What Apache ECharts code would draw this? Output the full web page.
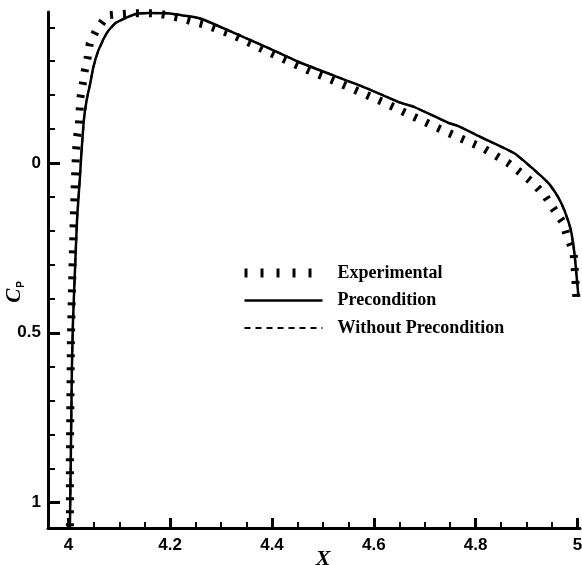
<!DOCTYPE html>
<html>
<head>
<meta charset="utf-8">
<script src="https://cdn.jsdelivr.net/npm/echarts@6/dist/echarts.min.js"></script>
<style>
  html, body { margin: 0; padding: 0; background: #fff; }
  #chart { width: 582px; height: 565px; }
</style>
</head>
<body>
<div id="chart"></div>
<script>
// tick values
const xMajor = [4, 4.2, 4.4, 4.6, 4.8, 5]
const xMinor = [4.05, 4.1, 4.15, 4.25, 4.3, 4.35, 4.45, 4.5, 4.55, 4.65, 4.7, 4.75, 4.85, 4.9, 4.95]
const yMajor = [0, 0.5, 1]
const yMinor = [-0.4, -0.3, -0.2, -0.1, 0.1, 0.2, 0.3, 0.4, 0.6, 0.7, 0.8, 0.9]

// Precondition (solid)
const precondX = [4.003, 4.005, 4.007, 4.009, 4.013, 4.017, 4.0196, 4.023, 4.026, 4.031, 4.037, 4.043, 4.049, 4.059, 4.075, 4.092, 4.115, 4.134, 4.16, 4.194, 4.225, 4.259, 4.323, 4.39, 4.454, 4.519, 4.585, 4.65, 4.68, 4.747, 4.766, 4.811, 4.876, 4.909, 4.943, 4.962, 4.974, 4.987, 4.994, 4.999, 5.002]
const precondCp = [1.075, 0.844, 0.6, 0.47, 0.315, 0.168, 0.109, 0.035, -0.038, -0.135, -0.194, -0.235, -0.282, -0.332, -0.382, -0.412, -0.429, -0.44, -0.442, -0.441, -0.435, -0.426, -0.385, -0.341, -0.297, -0.259, -0.221, -0.179, -0.165, -0.118, -0.109, -0.076, -0.029, 0.012, 0.059, 0.1, 0.138, 0.197, 0.265, 0.344, 0.394]

// Without Precondition (dashed, lies under the solid curve)
const noPrecondX = [4.003, 4.005, 4.007, 4.009, 4.013, 4.017, 4.0196, 4.023, 4.026, 4.031, 4.037, 4.043, 4.049, 4.059, 4.075, 4.092, 4.115, 4.134, 4.16, 4.194, 4.225, 4.259, 4.323, 4.39, 4.454, 4.519, 4.585, 4.65, 4.68, 4.747, 4.766, 4.811, 4.876, 4.909, 4.943, 4.962, 4.974, 4.987, 4.994, 4.999, 5.002]
const noPrecondCp = [1.075, 0.844, 0.6, 0.47, 0.315, 0.168, 0.109, 0.035, -0.038, -0.135, -0.194, -0.235, -0.282, -0.332, -0.382, -0.412, -0.429, -0.44, -0.442, -0.441, -0.435, -0.426, -0.385, -0.341, -0.297, -0.259, -0.221, -0.179, -0.165, -0.118, -0.109, -0.076, -0.029, 0.012, 0.059, 0.1, 0.138, 0.197, 0.265, 0.344, 0.394]

// Experimental
const expX = [4.003, 4.003, 4.004, 4.005, 4.007, 4.009, 4.011, 4.013, 4.014, 4.015, 4.017, 4.0206, 4.022, 4.0235, 4.028, 4.032, 4.038, 4.042, 4.054, 4.076, 4.097, 4.125, 4.174, 4.196, 4.223, 4.248, 4.272, 4.321, 4.37, 4.419, 4.47, 4.519, 4.568, 4.619, 4.668, 4.717, 4.766, 4.815, 4.864, 4.889, 4.915, 4.938, 4.956, 4.972, 4.98, 4.992, 4.994, 4.996, 4.998]
const expCp = [1.07, 0.874, 0.697, 0.521, 0.374, 0.256, 0.138, 0.047, 0.006, -0.033, -0.077, -0.112, -0.151, -0.192, -0.231, -0.271, -0.311, -0.352, -0.389, -0.435, -0.438, -0.441, -0.441, -0.435, -0.426, -0.415, -0.406, -0.379, -0.344, -0.309, -0.274, -0.244, -0.212, -0.179, -0.144, -0.109, -0.076, -0.044, 0, 0.029, 0.062, 0.1, 0.141, 0.176, 0.218, 0.259, 0.297, 0.344, 0.403]

const pairs = (xs, ys) => xs.map((x, i) => [x, ys[i]])

const labelFont = { color: '#000', fontFamily: 'Liberation Sans', fontWeight: 'bold', fontSize: 17 }
const X_MIN = 3.96
const X_MAX = 5.005
const Y_MIN = -0.445
const Y_MAX = 1.075
const noSymbol = { color: 'rgba(0,0,0,0)', borderWidth: 0 }

const chart = echarts.init(document.getElementById('chart'))
chart.setOption({
  backgroundColor: '#fff',
  animation: false,
  grid: { left: 48, right: 2, top: 12, bottom: 37, containLabel: false, outerBoundsMode: 'none' },
  legend: {
    orient: 'vertical',
    left: 235,
    top: 259,
    itemWidth: 78,
    itemHeight: 14,
    itemGap: 9.5,
    textStyle: { color: '#000', fontFamily: 'Liberation Serif', fontWeight: 'bold', fontSize: 18, padding: [0, 0, 0, 10] },
    data: [
      { name: 'Experimental', itemStyle: noSymbol, lineStyle: { color: '#000', width: 9, type: [3, 13] } },
      { name: 'Precondition', itemStyle: noSymbol, lineStyle: { color: '#000', width: 2.5, type: 'solid' } },
      { name: 'Without Precondition', itemStyle: noSymbol, lineStyle: { color: '#000', width: 2, type: [6, 5] } }
    ]
  },
  xAxis: [{
    type: 'value',
    min: X_MIN,
    max: X_MAX,
    position: 'bottom',
    name: 'X',
    nameLocation: 'middle',
    nameGap: 20,
    nameMoveOverlap: false,
    nameTextStyle: { color: '#000', fontFamily: 'Liberation Serif', fontStyle: 'italic', fontWeight: 'bold', fontSize: 22, verticalAlign: 'top', padding: [0, 0, 0, 18] },
    axisLine: { onZero: false, lineStyle: { color: '#000', width: 3 } },
    axisTick: { inside: true, length: 10, customValues: xMajor, lineStyle: { color: '#000', width: 3 } },
    axisLabel: Object.assign({ customValues: xMajor, margin: 9 }, labelFont),
    splitLine: { show: false }
  }, {
    type: 'value',
    min: X_MIN,
    max: X_MAX,
    position: 'bottom',
    axisLine: { show: false, onZero: false },
    axisTick: { inside: true, length: 6, customValues: xMinor, lineStyle: { color: '#000', width: 2 } },
    axisLabel: { show: false },
    splitLine: { show: false }
  }],
  yAxis: [{
    type: 'value',
    inverse: true,
    min: Y_MIN,
    max: Y_MAX,
    position: 'left',
    name: '{c|C}{p|P}',
    nameLocation: 'middle',
    nameRotate: 90,
    nameGap: 22,
    nameMoveOverlap: false,
    nameTextStyle: {
      padding: [0, 44, 0, 0],
      rich: {
        c: { color: '#000', fontFamily: 'Liberation Serif', fontStyle: 'italic', fontWeight: 'bold', fontSize: 21 },
        p: { color: '#000', fontFamily: 'Liberation Sans', fontWeight: 'bold', fontSize: 10, padding: [12, 0, 0, 1] }
      }
    },
    axisLine: { onZero: false, lineStyle: { color: '#000', width: 3 } },
    axisTick: { inside: true, length: 12, customValues: yMajor, lineStyle: { color: '#000', width: 3 } },
    axisLabel: Object.assign({ customValues: yMajor, margin: 7 }, labelFont),
    splitLine: { show: false }
  }, {
    type: 'value',
    inverse: true,
    min: Y_MIN,
    max: Y_MAX,
    position: 'left',
    axisLine: { show: false, onZero: false },
    axisTick: { inside: true, length: 7, customValues: yMinor, lineStyle: { color: '#000', width: 2 } },
    axisLabel: { show: false },
    splitLine: { show: false }
  }],
  series: [
    {
      name: 'Without Precondition',
      type: 'line',
      symbol: 'none',
      data: pairs(noPrecondX, noPrecondCp),
      itemStyle: { color: '#000' },
      lineStyle: { color: '#000', width: 2, type: [6, 5] }
    },
    {
      name: 'Precondition',
      type: 'line',
      symbol: 'none',
      smooth: 0.2,
      data: pairs(precondX, precondCp),
      itemStyle: { color: '#000' },
      lineStyle: { color: '#000', width: 2.5 }
    },
    {
      name: 'Experimental',
      type: 'line',
      symbol: 'none',
      data: pairs(expX, expCp),
      itemStyle: { color: '#000' },
      lineStyle: { color: '#000', width: 8, type: [3, 10] }
    }
  ]
})
</script>
</body>
</html>
